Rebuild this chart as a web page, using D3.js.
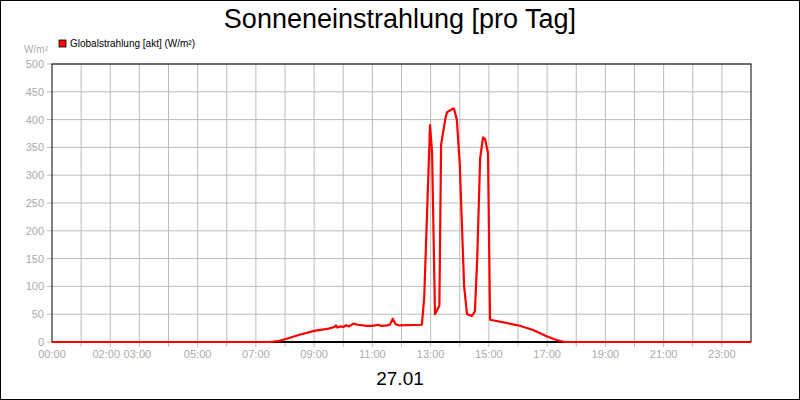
<!DOCTYPE html><html><head><meta charset="utf-8"><script src="https://cdn.jsdelivr.net/npm/d3@7"></script>
<style>body{margin:0;background:#fff}svg{display:block;font-family:"Liberation Sans",Arial,sans-serif}</style></head><body><svg width="800" height="400"></svg><script>
const hours=[0,7.5,7.8,8.0,8.5,9.0,9.5,9.7,9.75,9.8,9.9,10.0,10.1,10.2,10.35,10.5,10.8,11.0,11.2,11.3,11.5,11.6,11.7,11.8,11.9,12.7,12.78,12.98,13.05,13.15,13.3,13.36,13.5,13.56,13.77,13.8,13.9,14.0,14.15,14.25,14.42,14.52,14.6,14.7,14.8,14.87,14.97,15.04,16.0,16.5,17.0,17.3,17.6,24];
const values=[0,0,2,5,13,20,24,27,30,26,28,27,30,28,33,31,29,29,31,29,30,31,42,32,30,31,80,390,340,50,65,355,400,413,420,420,400,320,100,50,47,55,150,330,368,365,340,40,30,22,10,4,0,0];
const yTicks=[0,50,100,150,200,250,300,350,400,450,500];
const xTickHours=[0,2,3,5,7,9,11,13,15,17,19,21,23];
const xTickLabels=["00:00","02:00","03:00","05:00","07:00","09:00","11:00","13:00","15:00","17:00","19:00","21:00","23:00"];
const svg=d3.select("svg");
const L=52,R=751,T=64,B=342;
const x=d3.scaleLinear().domain([0,24]).range([L,R]);
const y=d3.scaleLinear().domain([0,500]).range([B,T]);
svg.append("rect").attr("x",0.5).attr("y",0.5).attr("width",799).attr("height",399).attr("fill","#fff").attr("stroke","#000");
const g=svg.append("g");
g.selectAll(".vg").data(d3.range(1,24)).join("line").attr("x1",d=>x(d)).attr("x2",d=>x(d)).attr("y1",T).attr("y2",B+5).attr("stroke","#bbb");
g.selectAll(".hg").data(yTicks).join("line").attr("x1",L-5).attr("x2",R).attr("y1",d=>y(d)).attr("y2",d=>y(d)).attr("stroke","#bbb");
g.selectAll(".yl").data(yTicks).join("text").attr("x",L-8).attr("y",d=>y(d)+4).attr("text-anchor","end").attr("font-size",11).attr("fill","#aaa").text(d=>d);
g.selectAll(".xl").data(xTickHours).join("text").attr("x",(d,i)=>x(d)+(d===2?-4:d===3?-2:0)).attr("y",B+16).attr("text-anchor","middle").attr("font-size",11).attr("fill","#aaa").text((d,i)=>xTickLabels[i]);
svg.append("rect").attr("x",L).attr("y",T).attr("width",R-L).attr("height",B-T).attr("fill","none").attr("stroke","#000");
svg.append("line").attr("x1",L).attr("x2",R).attr("y1",B).attr("y2",B).attr("stroke","#000").attr("stroke-width",2);
const line=d3.line().x((d,i)=>x(hours[i])).y(d=>y(d));
svg.append("path").datum(values).attr("d",line).attr("fill","none").attr("stroke","#f00").attr("stroke-width",2.2).attr("stroke-linejoin","round");
svg.append("text").attr("x",400).attr("y",28).attr("text-anchor","middle").attr("font-size",27).text("Sonneneinstrahlung [pro Tag]");
svg.append("rect").attr("x",59).attr("y",40).attr("width",7).attr("height",7).attr("fill","#f00").attr("stroke","#000").attr("stroke-width",0.8);
svg.append("text").attr("x",70).attr("y",47).attr("font-size",10).text("Globalstrahlung [akt] (W/m²)");
svg.append("text").attr("x",48).attr("y",53).attr("text-anchor","end").attr("font-size",10).attr("fill","#aaa").text("W/m²");
svg.append("text").attr("x",400).attr("y",385).attr("text-anchor","middle").attr("font-size",19).text("27.01");
</script></body></html>
